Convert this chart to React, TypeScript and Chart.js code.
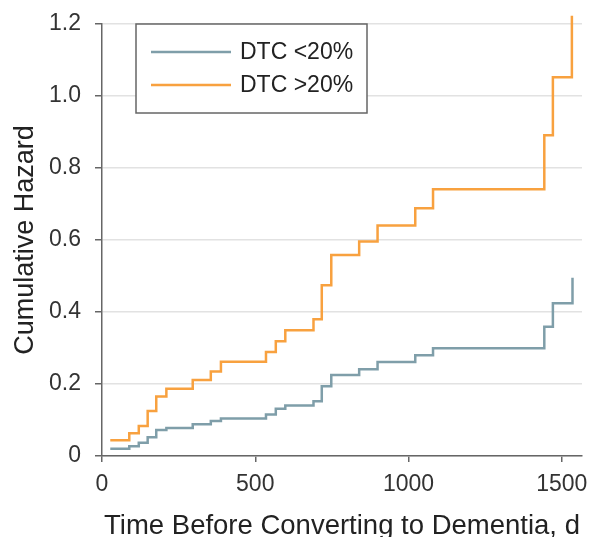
import React, { useEffect, useRef } from "react";
import { Chart, registerables } from "chart.js";

Chart.register(...registerables);

const seriesLabels = ["DTC <20%", "DTC >20%"];
const seriesColors = ["#7f9ea9", "#f8a13f"];

const blueDays = [27, 89, 120, 149, 177, 210, 296, 355, 388, 535, 567, 598, 690, 717, 748, 839, 899, 1022, 1080, 1443, 1471, 1535];
const blueHazard = [0.02, 0.027, 0.037, 0.052, 0.072, 0.078, 0.088, 0.097, 0.104, 0.115, 0.131, 0.14, 0.152, 0.194, 0.225, 0.241, 0.261, 0.28, 0.299, 0.359, 0.424, 0.495];

const orangeDays = [27, 89, 120, 149, 177, 210, 296, 355, 388, 535, 567, 598, 690, 717, 748, 839, 899, 1022, 1080, 1443, 1471, 1533];
const orangeHazard = [0.044, 0.063, 0.083, 0.125, 0.165, 0.187, 0.211, 0.235, 0.262, 0.289, 0.319, 0.349, 0.38, 0.474, 0.558, 0.596, 0.64, 0.688, 0.741, 0.891, 1.052, 1.223];

const xTicks = [0, 500, 1000, 1500];
const yTicks = [0, 0.2, 0.4, 0.6, 0.8, 1.0, 1.2];

const xTitle = "Time Before Converting to Dementia, d";
const yTitle = "Cumulative Hazard";

const FONT = "'Liberation Sans', Arial, sans-serif";

const legendPlugin = {
  id: "boxLegend",
  afterDatasetsDraw(chart: any) {
    const ctx = chart.ctx;
    const x0 = 136, y0 = 24, w = 231, h = 89;
    ctx.save();
    ctx.fillStyle = "#ffffff";
    ctx.fillRect(x0, y0, w, h);
    ctx.strokeStyle = "#666666";
    ctx.lineWidth = 1.5;
    ctx.strokeRect(x0, y0, w, h);
    const rows = [52, 85];
    chart.data.datasets.forEach((ds: any, i: number) => {
      const y = rows[i];
      ctx.strokeStyle = ds.borderColor;
      ctx.lineWidth = 2.5;
      ctx.beginPath();
      ctx.moveTo(151, y);
      ctx.lineTo(231, y);
      ctx.stroke();
      ctx.fillStyle = "#222222";
      ctx.font = `23px ${FONT}`;
      ctx.textBaseline = "middle";
      ctx.textAlign = "left";
      ctx.fillText(ds.label, 240, y + 1);
    });
    ctx.restore();
  },
};

export default function App() {
  const ref = useRef<HTMLCanvasElement>(null);
  useEffect(() => {
    if (!ref.current) return;
    const mk = (xs: number[], ys: number[]) => xs.map((x, i) => ({ x, y: ys[i] }));
    const chart = new Chart(ref.current, {
      type: "line",
      data: {
        datasets: [
          {
            label: seriesLabels[0],
            data: mk(blueDays, blueHazard),
            borderColor: seriesColors[0],
            backgroundColor: seriesColors[0],
            borderWidth: 2.5,
            stepped: true,
            pointRadius: 0,
            clip: false as any,
          },
          {
            label: seriesLabels[1],
            data: mk(orangeDays, orangeHazard),
            borderColor: seriesColors[1],
            backgroundColor: seriesColors[1],
            borderWidth: 2.5,
            stepped: true,
            pointRadius: 0,
            clip: false as any,
          },
        ],
      },
      plugins: [legendPlugin],
      options: {
        animation: false,
        responsive: false,
        maintainAspectRatio: false,
        layout: { padding: { top: 24, right: 12, left: 0, bottom: 0 } },
        plugins: { legend: { display: false }, tooltip: { enabled: false } },
        scales: {
          x: {
            type: "linear",
            min: 0,
            max: 1566,
            afterFit: (s: any) => {
              s.height = 81;
              s.paddingRight = 0;
              s.paddingLeft = 0;
            },
            afterBuildTicks: (s: any) => { s.ticks = xTicks.map((v) => ({ value: v })); },
            ticks: {
              includeBounds: false,
              color: "#333333",
              font: { family: FONT, size: 23 },
              padding: 9,
              maxRotation: 0,
              callback: (v: any) => String(v),
            },
            grid: { drawOnChartArea: false, drawTicks: true, tickLength: 6, tickColor: "#666666", lineWidth: 1.5 },
            border: { display: true, color: "#666666", width: 1.5 },
            title: {
              display: true,
              text: xTitle,
              color: "#222222",
              font: { family: FONT, size: 27.5, lineHeight: 1 },
              padding: { top: 0, bottom: -3.5 },
            },
          },
          y: {
            type: "linear",
            min: 0,
            max: 1.2,
            afterFit: (s: any) => {
              s.width = 102;
              s.paddingTop = 0;
              s.paddingBottom = 0;
            },
            afterBuildTicks: (s: any) => { s.ticks = yTicks.map((v) => ({ value: v })); },
            ticks: {
              color: "#333333",
              font: { family: FONT, size: 23 },
              padding: 14,
              callback: (v: any) => (v === 0 ? "0" : Number(v).toFixed(1)),
            },
            grid: { drawOnChartArea: true, color: "#e2e2e2", lineWidth: 1.5, drawTicks: true, tickLength: 7, tickColor: "#666666" },
            border: { display: true, color: "#666666", width: 1.5 },
            title: {
              display: true,
              text: yTitle,
              color: "#222222",
              font: { family: FONT, size: 27, lineHeight: 1.2 },
              padding: { top: 9, bottom: 0 },
            },
          },
        },
      },
    });
    return () => chart.destroy();
  }, []);
  return (
    <div style={{ position: "absolute", left: 0, top: 0, width: 594, height: 537, background: "#fff" }}>
      <canvas ref={ref} width={594} height={537} style={{ width: 594, height: 537, display: "block" }} />
    </div>
  );
}
